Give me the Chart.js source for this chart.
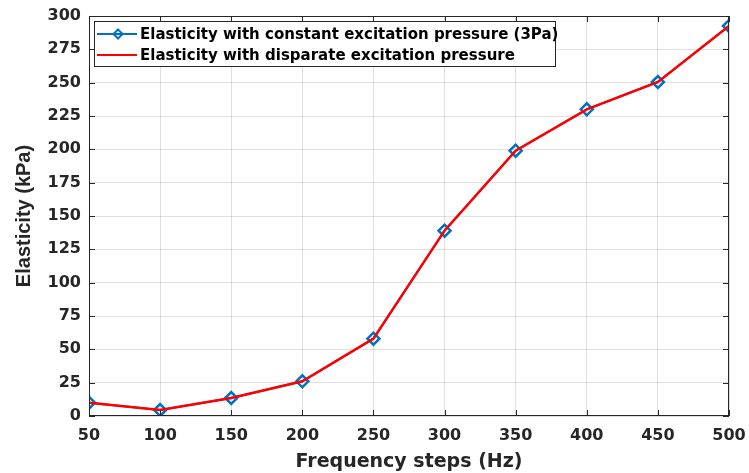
<!DOCTYPE html>
<html>
<head>
<meta charset="utf-8">
<script src="https://cdn.jsdelivr.net/npm/chart.js@4.4.0/dist/chart.umd.min.js"></script>
<style>
  html, body { margin: 0; padding: 0; background: #fff; }
  #wrap { width: 749px; height: 473px; }
</style>
</head>
<body>
<div id="wrap"><canvas id="graficoElasticidad"></canvas></div>
<script>
// frequency steps (Hz) and measured elasticity (kPa)
const frecuencias = [50, 100, 150, 200, 250, 300, 350, 400, 450, 500]
const elasticidadConstante = [10, 4.5, 13.5, 26, 58, 139, 199, 230, 250.5, 292.5]
const elasticidadDisparada = [10, 4.5, 13.5, 26, 58, 139, 199, 230, 250.5, 292.5]

const etiquetas = [
  'Elasticity with constant excitation pressure (3Pa)',
  'Elasticity with disparate excitation pressure'
]

const azul = '#0072BD'
const rojo = '#FF0000'
const textoColor = '#262626'
const fuenteAncha = "'DejaVu Sans', Verdana, sans-serif"
const fuente = "'Liberation Sans', Arial, sans-serif"

const puntos = (xs, ys) => xs.map((x, i) => ({ x: x, y: ys[i] }))

// box around the axes, inward ticks and legend drawn like a MATLAB figure
const marcoPlugin = {
  id: 'marco',
  afterDraw(chart) {
    const ctx = chart.ctx
    const a = chart.chartArea
    const xs = chart.scales.x
    const ys = chart.scales.y
    ctx.save()
    ctx.strokeStyle = textoColor
    ctx.lineWidth = 1
    ctx.strokeRect(a.left + 0.5, a.top + 0.5, a.right - a.left - 1, a.bottom - a.top - 1)

    ctx.beginPath()
    xs.ticks.forEach((t) => {
      const px = Math.round(xs.getPixelForValue(t.value)) + 0.5
      ctx.moveTo(px, a.bottom); ctx.lineTo(px, a.bottom - 6)
      ctx.moveTo(px, a.top); ctx.lineTo(px, a.top + 6)
    })
    ys.ticks.forEach((t) => {
      const py = Math.round(ys.getPixelForValue(t.value)) + 0.5
      ctx.moveTo(a.left, py); ctx.lineTo(a.left + 6, py)
      ctx.moveTo(a.right, py); ctx.lineTo(a.right - 6, py)
    })
    ctx.stroke()

    // legend
    const lx = a.left + 5
    const ly = a.top + 5
    const lw = 461
    const lh = 45
    ctx.fillStyle = '#fff'
    ctx.fillRect(lx, ly, lw, lh)
    ctx.strokeStyle = textoColor
    ctx.strokeRect(lx + 0.5, ly + 0.5, lw, lh)

    const filas = [
      { texto: etiquetas[0], color: azul, marcador: true, y: ly + 13 },
      { texto: etiquetas[1], color: rojo, marcador: false, y: ly + 34 }
    ]
    ctx.font = 'bold 15px ' + fuenteAncha
    ctx.textBaseline = 'middle'
    filas.forEach((f) => {
      ctx.strokeStyle = f.color
      ctx.lineWidth = 2
      ctx.beginPath()
      ctx.moveTo(lx + 3, f.y); ctx.lineTo(lx + 43, f.y)
      ctx.stroke()
      if (f.marcador) {
        const cx = lx + 24
        ctx.beginPath()
        ctx.moveTo(cx, f.y - 4.5); ctx.lineTo(cx + 4.5, f.y)
        ctx.lineTo(cx, f.y + 4.5); ctx.lineTo(cx - 4.5, f.y)
        ctx.closePath()
        ctx.stroke()
      }
      ctx.fillStyle = '#000'
      ctx.fillText(f.texto, lx + 46, f.y + 1)
    })
    ctx.restore()
  }
}

const lienzo = document.getElementById('graficoElasticidad')

new Chart(lienzo, {
  type: 'line',
  data: {
    datasets: [
      {
        label: etiquetas[0],
        data: puntos(frecuencias, elasticidadConstante),
        borderColor: azul,
        backgroundColor: 'rgba(0,0,0,0)',
        borderWidth: 2,
        pointStyle: 'rectRot',
        pointRadius: 6,
        pointBorderWidth: 2.5,
        pointBorderColor: azul,
        pointBackgroundColor: 'rgba(0,0,0,0)',
        tension: 0,
        order: 1
      },
      {
        label: etiquetas[1],
        data: puntos(frecuencias, elasticidadDisparada),
        borderColor: rojo,
        backgroundColor: rojo,
        borderWidth: 2.5,
        pointRadius: 0,
        tension: 0,
        order: 0
      }
    ]
  },
  options: {
    responsive: true,
    maintainAspectRatio: false,
    animation: false,
    layout: { padding: { left: 0, right: 20, top: 16, bottom: 0 } },
    plugins: {
      legend: { display: false },
      tooltip: { enabled: false }
    },
    scales: {
      x: {
        type: 'linear',
        min: 50,
        max: 500,
        ticks: {
          stepSize: 50,
          color: textoColor,
          font: { family: fuenteAncha, size: 16, weight: 'bold' },
          padding: 10,
          maxRotation: 0
        },
        grid: { color: 'rgba(0,0,0,0.12)', drawTicks: false },
        border: { display: false },
        title: {
          display: true,
          text: 'Frequency steps (Hz)',
          color: textoColor,
          font: { family: fuenteAncha, size: 19, weight: 'bold' },
          padding: { top: 2, bottom: 0 }
        },
        afterFit: (escala) => {
          escala.height = 57
          escala.paddingLeft = 0
          escala.paddingRight = 0
        }
      },
      y: {
        min: 0,
        max: 300,
        ticks: {
          stepSize: 25,
          color: textoColor,
          font: { family: fuenteAncha, size: 16, weight: 'bold' },
          padding: 8
        },
        grid: { color: 'rgba(0,0,0,0.12)', drawTicks: false },
        border: { display: false },
        title: {
          display: true,
          text: 'Elasticity (kPa)',
          color: textoColor,
          font: { family: fuente, size: 20, weight: 'bold' },
          padding: { top: 12, bottom: 4 }
        },
        afterFit: (escala) => {
          escala.width = 89
          escala.paddingTop = 0
          escala.paddingBottom = 0
        }
      }
    }
  },
  plugins: [marcoPlugin]
})
</script>
</body>
</html>
